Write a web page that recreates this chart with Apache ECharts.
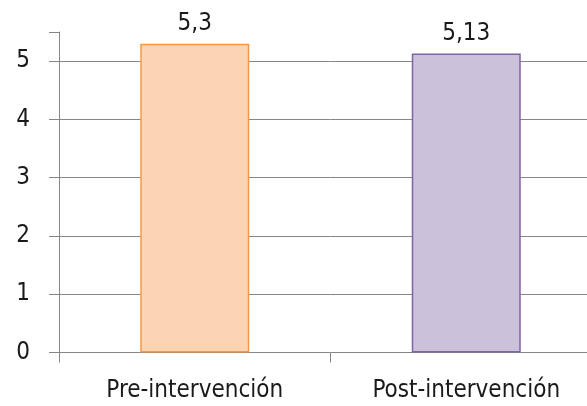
<!DOCTYPE html>
<html>
<head>
<meta charset="utf-8">
<style>
  html, body { margin: 0; padding: 0; background: #fff; overflow: hidden; }
  #chart { width: 602px; height: 406px; }
</style>
<script src="https://cdn.jsdelivr.net/npm/echarts@6/dist/echarts.min.js"></script>
</head>
<body>
<div id="chart"></div>
<script>
// Mean score before and after the intervention
const categories = ['Pre-intervención', 'Post-intervención'];
const values = [5.3, 5.13];
const valueLabels = ['5,3', '5,13'];
const yTicks = [0, 1, 2, 3, 4, 5];

const fills = ['#FBD4B4', '#CCC1DA'];
const borders = ['#F79646', '#8064A2'];

const FONT = '"DejaVu Sans Condensed", "Liberation Sans Narrow", sans-serif';

const chart = echarts.init(document.getElementById('chart'));
chart.setOption({
  animation: false,
  grid: { left: 59, top: 32, right: 0, bottom: 53.5, containLabel: false },
  xAxis: {
    type: 'category',
    data: categories,
    axisLine: { show: false },
    axisTick: { show: true, length: 10, lineStyle: { color: '#868686', width: 1 } },
    axisLabel: { fontFamily: FONT, fontSize: 24, color: '#1a1a1a', margin: 26 }
  },
  yAxis: {
    type: 'value',
    min: 0,
    max: 5.5,
    interval: 1,
    axisLine: { show: true, lineStyle: { color: '#868686', width: 1 } },
    axisTick: { show: true, length: 10, lineStyle: { color: '#868686', width: 1 } },
    axisLabel: {
      fontFamily: FONT, fontSize: 24, color: '#1a1a1a', margin: 29,
      formatter: v => (yTicks.indexOf(v) >= 0 ? String(v) : '')
    },
    splitLine: { show: true, showMaxLine: false, lineStyle: { color: '#868686', width: 1 } }
  },
  series: [{
    type: 'bar',
    barWidth: 109,
    data: values.map((v, i) => ({
      value: v,
      itemStyle: { color: fills[i], borderColor: borders[i], borderWidth: 1.5 }
    })),
    label: {
      show: true,
      position: 'top',
      distance: 8,
      fontFamily: FONT,
      fontSize: 24,
      color: '#1a1a1a',
      formatter: p => valueLabels[p.dataIndex]
    }
  }]
});
</script>
</body>
</html>
